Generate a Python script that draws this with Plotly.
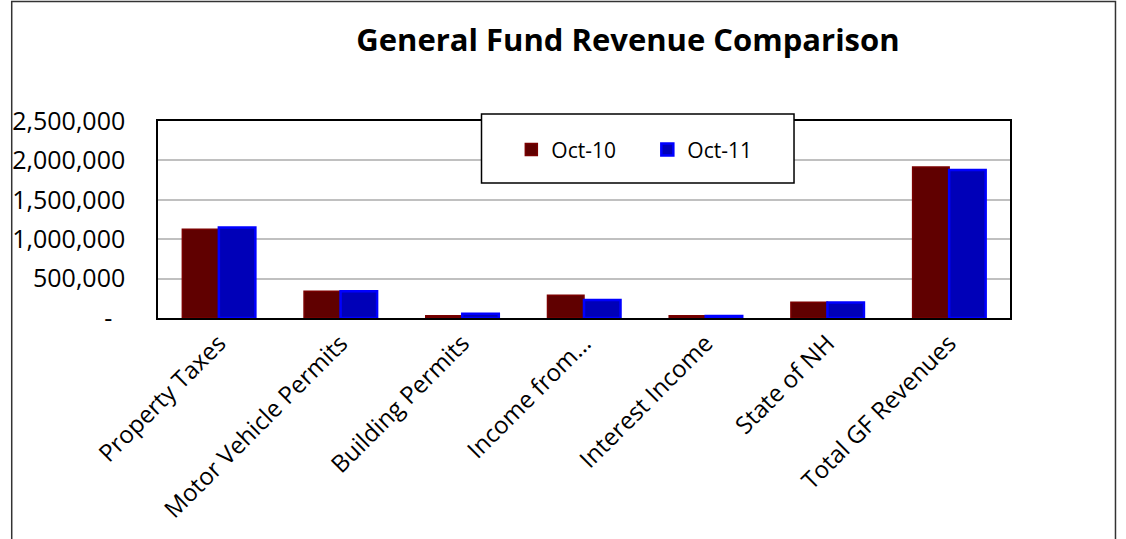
import plotly.graph_objects as go

categories = ["Property Taxes", "Motor Vehicle Permits", "Building Permits",
              "Income from…", "Interest Income", "State of NH", "Total GF Revenues"]
oct10 = [1125000, 340000, 30000, 290000, 28000, 200000, 1915000]
oct11 = [1150000, 340000, 55000, 228000, 26000, 198000, 1878000]
ytick_vals = [0, 500000, 1000000, 1500000, 2000000, 2500000]
ytick_text = ["-\u00a0\u00a0", "500,000", "1,000,000", "1,500,000", "2,000,000", "2,500,000"]

FONT = "Open Sans"

fig = go.Figure()
fig.add_trace(go.Bar(name="Oct-10", x=categories, y=oct10,
                     marker=dict(color="#600000", line=dict(color="#7a0000", width=1.5))))
fig.add_trace(go.Bar(name="Oct-11", x=categories, y=oct11,
                     marker=dict(color="#0000b8", line=dict(color="#0000ff", width=2.5))))

fig.update_layout(
    width=1126, height=539,
    paper_bgcolor="white", plot_bgcolor="white",
    margin=dict(l=154, r=116, t=121, b=221),
    barmode="group", bargap=0.4, bargroupgap=0,
    font=dict(family=FONT, color="black"),
    title=dict(text="<b>General Fund Revenue Comparison</b>", x=0.5577, xanchor="center",
               y=0.9258, yanchor="middle", font=dict(size=31, family=FONT)),
    legend=dict(orientation="h", x=0.4147, y=0.853, xanchor="left", yanchor="middle",
                borderwidth=0, bgcolor="rgba(0,0,0,0)",
                font=dict(size=21, family=FONT), itemwidth=30,
                entrywidth=91, entrywidthmode="pixels"),
    showlegend=True,
)
fig.update_yaxes(range=[0, 2500000], tickvals=ytick_vals, ticktext=ytick_text,
                 showgrid=True, gridcolor="#c0c0c0", gridwidth=1.5,
                 showline=True, linecolor="black", linewidth=1.5, mirror=True,
                 ticks="", ticklabelstandoff=26, zeroline=False,
                 tickfont=dict(size=25, family=FONT))
fig.update_xaxes(tickangle=-45, showline=True, linecolor="black", linewidth=1.5, mirror=True,
                 ticks="", tickfont=dict(size=24, family=FONT))

# legend frame
fig.add_shape(type="rect", xref="paper", yref="paper",
              x0=0.3797, x1=0.7465, y0=0.6853, y1=1.0355,
              line=dict(color="black", width=1.5), fillcolor="white", layer="above")
# outer chart frame
fig.add_shape(type="rect", xref="paper", yref="paper",
              x0=-0.1717, x1=1.1238, y0=-1.2, y1=1.607,
              line=dict(color="#333333", width=1.5), layer="below")

fig.write_html("out.html", config={"displayModeBar": False},
               post_script="document.body.style.margin='0';")
